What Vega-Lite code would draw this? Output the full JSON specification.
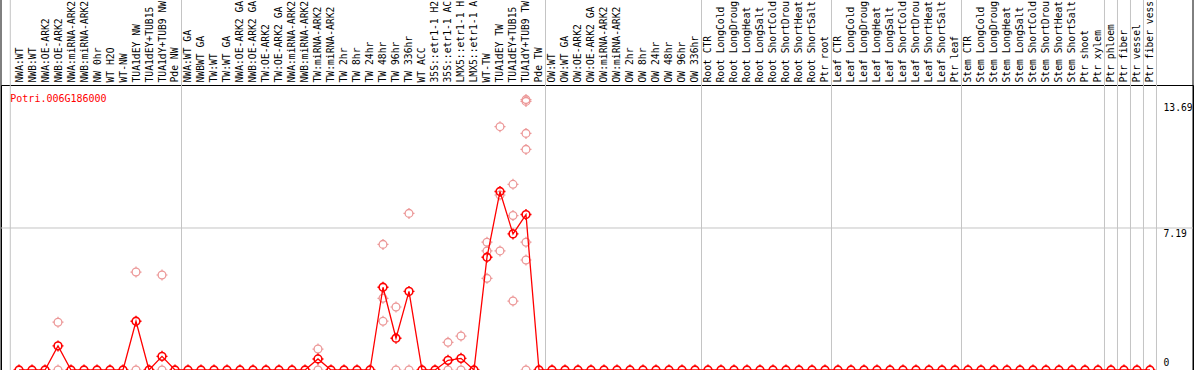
{
  "$schema": "https://vega.github.io/schema/vega-lite/v6.json",
  "width": 1192,
  "height": 285,
  "autosize": {"type": "none"},
  "padding": {"left": 1, "right": 1, "top": 85, "bottom": 0},
  "background": "white",
  "config": {"view": {"stroke": "#000000", "strokeWidth": 1}, "axis": {"labelOverlap": false}},
  "resolve": {"axis": {"x": "independent", "y": "independent"}},
  "datasets": {
    "samples": [
      {"i": 1, "sample": "NWA:WT", "value": 0},
      {"i": 2, "sample": "NWB:WT", "value": 0},
      {"i": 3, "sample": "NWA:OE-ARK2", "value": 0},
      {"i": 4, "sample": "NWB:OE-ARK2", "value": 1.22},
      {"i": 5, "sample": "NWA:miRNA-ARK2", "value": 0},
      {"i": 6, "sample": "NWB:miRNA-ARK2", "value": 0},
      {"i": 7, "sample": "NW 0hr", "value": 0},
      {"i": 8, "sample": "WT H2O", "value": 0},
      {"i": 9, "sample": "WT-NW", "value": 0},
      {"i": 10, "sample": "TUA1dEY NW", "value": 2.47},
      {"i": 11, "sample": "TUA1dEY+TUB15", "value": 0},
      {"i": 12, "sample": "TUA1dY+TUB9 NW", "value": 0.69},
      {"i": 13, "sample": "Pde NW", "value": 0},
      {"i": 14, "sample": "NWA:WT GA", "value": 0},
      {"i": 15, "sample": "NWBWT GA", "value": 0},
      {"i": 16, "sample": "TW:WT", "value": 0},
      {"i": 17, "sample": "TW:WT GA", "value": 0},
      {"i": 18, "sample": "NWA:OE-ARK2 GA", "value": 0},
      {"i": 19, "sample": "NWB:OE-ARK2 GA", "value": 0},
      {"i": 20, "sample": "TW:OE-ARK2", "value": 0},
      {"i": 21, "sample": "TW:OE-ARK2 GA", "value": 0},
      {"i": 22, "sample": "NWA:miRNA-ARK2", "value": 0},
      {"i": 23, "sample": "NWB:miRNA-ARK2", "value": 0},
      {"i": 24, "sample": "TW:miRNA-ARK2", "value": 0.56},
      {"i": 25, "sample": "TW:miRNA-ARK2", "value": 0},
      {"i": 26, "sample": "TW 2hr", "value": 0},
      {"i": 27, "sample": "TW 8hr", "value": 0},
      {"i": 28, "sample": "TW 24hr", "value": 0},
      {"i": 29, "sample": "TW 48hr", "value": 4.19},
      {"i": 30, "sample": "TW 96hr", "value": 1.61},
      {"i": 31, "sample": "TW 336hr", "value": 3.98},
      {"i": 32, "sample": "WT ACC", "value": 0},
      {"i": 33, "sample": "35S::etr1-1 H2", "value": 0},
      {"i": 34, "sample": "35S::etr1-1 AC", "value": 0.49},
      {"i": 35, "sample": "LMX5::etr1-1 H", "value": 0.59},
      {"i": 36, "sample": "LMX5::etr1-1 A", "value": 0},
      {"i": 37, "sample": "WT-TW", "value": 5.71},
      {"i": 38, "sample": "TUA1dEY TW", "value": 9.04},
      {"i": 39, "sample": "TUA1dEY+TUB15", "value": 6.89},
      {"i": 40, "sample": "TUA1dY+TUB9 TW", "value": 7.87},
      {"i": 41, "sample": "Pde TW", "value": 0},
      {"i": 42, "sample": "OW:WT", "value": 0},
      {"i": 43, "sample": "OW:WT GA", "value": 0},
      {"i": 44, "sample": "OW:OE-ARK2", "value": 0},
      {"i": 45, "sample": "OW:OE-ARK2 GA", "value": 0},
      {"i": 46, "sample": "OW:miRNA-ARK2", "value": 0},
      {"i": 47, "sample": "OW:miRNA-ARK2", "value": 0},
      {"i": 48, "sample": "OW 2hr", "value": 0},
      {"i": 49, "sample": "OW 8hr", "value": 0},
      {"i": 50, "sample": "OW 24hr", "value": 0},
      {"i": 51, "sample": "OW 48hr", "value": 0},
      {"i": 52, "sample": "OW 96hr", "value": 0},
      {"i": 53, "sample": "OW 336hr", "value": 0},
      {"i": 54, "sample": "Root CTR", "value": 0},
      {"i": 55, "sample": "Root LongCold", "value": 0},
      {"i": 56, "sample": "Root LongDroug", "value": 0},
      {"i": 57, "sample": "Root LongHeat", "value": 0},
      {"i": 58, "sample": "Root LongSalt", "value": 0},
      {"i": 59, "sample": "Root ShortCold", "value": 0},
      {"i": 60, "sample": "Root ShortDrou", "value": 0},
      {"i": 61, "sample": "Root ShortHeat", "value": 0},
      {"i": 62, "sample": "Root ShortSalt", "value": 0},
      {"i": 63, "sample": "Ptr root", "value": 0},
      {"i": 64, "sample": "Leaf CTR", "value": 0},
      {"i": 65, "sample": "Leaf LongCold", "value": 0},
      {"i": 66, "sample": "Leaf LongDroug", "value": 0},
      {"i": 67, "sample": "Leaf LongHeat", "value": 0},
      {"i": 68, "sample": "Leaf LongSalt", "value": 0},
      {"i": 69, "sample": "Leaf ShortCold", "value": 0},
      {"i": 70, "sample": "Leaf ShortDrou", "value": 0},
      {"i": 71, "sample": "Leaf ShortHeat", "value": 0},
      {"i": 72, "sample": "Leaf ShortSalt", "value": 0},
      {"i": 73, "sample": "Ptr leaf", "value": 0},
      {"i": 74, "sample": "Stem CTR", "value": 0},
      {"i": 75, "sample": "Stem LongCold", "value": 0},
      {"i": 76, "sample": "Stem LongDroug", "value": 0},
      {"i": 77, "sample": "Stem LongHeat", "value": 0},
      {"i": 78, "sample": "Stem LongSalt", "value": 0},
      {"i": 79, "sample": "Stem ShortCold", "value": 0},
      {"i": 80, "sample": "Stem ShortDrou", "value": 0},
      {"i": 81, "sample": "Stem ShortHeat", "value": 0},
      {"i": 82, "sample": "Stem ShortSalt", "value": 0},
      {"i": 83, "sample": "Ptr shoot", "value": 0},
      {"i": 84, "sample": "Ptr xylem", "value": 0},
      {"i": 85, "sample": "Ptr phloem", "value": 0},
      {"i": 86, "sample": "Ptr fiber", "value": 0},
      {"i": 87, "sample": "Ptr vessel", "value": 0},
      {"i": 88, "sample": "Ptr fiber vess", "value": 0}
    ],
    "reps": [
      {"i": 4, "value": 2.42}, {"i": 4, "value": 0},
      {"i": 10, "value": 4.96}, {"i": 10, "value": 0},
      {"i": 12, "value": 4.81}, {"i": 12, "value": 0},
      {"i": 24, "value": 1.06}, {"i": 24, "value": 0},
      {"i": 29, "value": 6.36}, {"i": 29, "value": 3.63}, {"i": 29, "value": 2.47},
      {"i": 30, "value": 3.19}, {"i": 30, "value": 0},
      {"i": 31, "value": 7.93}, {"i": 31, "value": 0},
      {"i": 34, "value": 1.4}, {"i": 34, "value": 0},
      {"i": 35, "value": 1.72}, {"i": 35, "value": 0},
      {"i": 37, "value": 6.47}, {"i": 37, "value": 6.03}, {"i": 37, "value": 4.64},
      {"i": 38, "value": 12.32}, {"i": 38, "value": 8.86}, {"i": 38, "value": 6.03},
      {"i": 39, "value": 9.4}, {"i": 39, "value": 7.82}, {"i": 39, "value": 3.49},
      {"i": 40, "value": 13.69}, {"i": 40, "value": 13.6}, {"i": 40, "value": 11.98}, {"i": 40, "value": 11.17}, {"i": 40, "value": 6.47}, {"i": 40, "value": 5.57}, {"i": 40, "value": 0}
    ],
    "separators": [
      {"i": -0.385, "kind": "edge"},
      {"i": 0.33, "kind": "group"},
      {"i": 13.5, "kind": "group"},
      {"i": 41.5, "kind": "group"},
      {"i": 53.5, "kind": "group"},
      {"i": 63.5, "kind": "group"},
      {"i": 73.5, "kind": "group"},
      {"i": 84.5, "kind": "group"},
      {"i": 85.5, "kind": "group"},
      {"i": 86.5, "kind": "group"},
      {"i": 87.5, "kind": "group"},
      {"i": 88.5, "kind": "group"},
      {"i": 91.31, "kind": "edge"}
    ],
    "gene": [{"gene": "Potri.006G186000", "gridline": 7.19}]
  },
  "layer": [
    {
      "data": {"name": "separators"},
      "mark": {"type": "rule", "strokeWidth": 1, "clip": false},
      "encoding": {
        "x": {
          "field": "i", "type": "quantitative",
          "scale": {"domain": [-0.385, 91.31], "nice": false, "zero": false},
          "axis": {
            "orient": "top", "title": null, "grid": false, "domain": false, "ticks": false, "tickSize": 0,
            "values": [1,2,3,4,5,6,7,8,9,10,11,12,13,14,15,16,17,18,19,20,21,22,23,24,25,26,27,28,29,30,31,32,33,34,35,36,37,38,39,40,41,42,43,44,45,46,47,48,49,50,51,52,53,54,55,56,57,58,59,60,61,62,63,64,65,66,67,68,69,70,71,72,73,74,75,76,77,78,79,80,81,82,83,84,85,86,87,88],
            "labelExpr": "data('samples')[datum.value - 1].sample",
            "labelAngle": -90, "labelAlign": "left", "labelBaseline": "middle",
            "labelPadding": 3, "labelOverlap": false, "labelBound": false, "labelFlush": false, "labelLimit": 0,
            "labelFont": "DejaVu Sans Mono", "labelFontSize": 9.7, "labelColor": "#000000"
          }
        },
        "y": {"datum": 0, "type": "quantitative", "scale": {"domain": [0, 14.43], "nice": false, "zero": false}, "axis": null},
        "y2": {"datum": 18.8},
        "color": {"field": "kind", "type": "nominal", "scale": {"domain": ["group", "edge"], "range": ["#c4c4c4", "#000000"]}, "legend": null}
      }
    },
    {
      "data": {"name": "gene"},
      "mark": {"type": "rule", "color": "#c4c4c4", "strokeWidth": 1},
      "encoding": {
        "y": {"field": "gridline", "type": "quantitative", "axis": null}
      }
    },
    {
      "data": {"name": "reps"},
      "mark": {"type": "point", "shape": "circle", "filled": false, "size": 60, "stroke": "#ec9898", "strokeWidth": 1.3, "opacity": 1, "clip": false},
      "encoding": {
        "x": {"field": "i", "type": "quantitative", "axis": null},
        "y": {"field": "value", "type": "quantitative", "axis": null}
      }
    },
    {
      "data": {"name": "reps"},
      "mark": {"type": "point", "shape": "M0,-0.72L0,-1M0,0.72L0,1M-0.72,0L-1,0M0.72,0L1,0", "filled": false, "size": 121, "stroke": "#ec9898", "strokeWidth": 1.2, "opacity": 1, "clip": false},
      "encoding": {
        "x": {"field": "i", "type": "quantitative", "axis": null},
        "y": {"field": "value", "type": "quantitative", "axis": null}
      }
    },
    {
      "data": {"name": "samples"},
      "mark": {"type": "line", "color": "#ff0000", "strokeWidth": 1.3},
      "encoding": {
        "x": {"field": "i", "type": "quantitative", "axis": null},
        "y": {"field": "value", "type": "quantitative", "axis": null}
      }
    },
    {
      "data": {"name": "samples"},
      "mark": {"type": "point", "shape": "M0,-0.72L0,-1M0,0.72L0,1M-0.72,0L-1,0M0.72,0L1,0", "filled": false, "size": 121, "stroke": "#ff0000", "strokeWidth": 1.4, "opacity": 1, "clip": false},
      "encoding": {
        "x": {"field": "i", "type": "quantitative", "axis": null},
        "y": {"field": "value", "type": "quantitative", "axis": null}
      }
    },
    {
      "data": {"name": "samples"},
      "mark": {"type": "point", "shape": "circle", "filled": false, "size": 60, "stroke": "#ff0000", "strokeWidth": 1.6, "opacity": 1, "clip": false},
      "encoding": {
        "x": {"field": "i", "type": "quantitative", "axis": null},
        "y": {
          "field": "value", "type": "quantitative",
          "axis": {
            "orient": "right", "title": null, "grid": false, "domain": false, "ticks": false, "tickSize": 0,
            "values": [0, 7.19, 13.69],
            "labelExpr": "'' + datum.value",
            "labelAlign": "left", "labelBaseline": "top", "labelPadding": -30,
            "labelOffset": {"condition": [{"test": "datum.value == 0", "value": -12.6}, {"test": "datum.value > 10", "value": 2.5}], "value": 0.5},
            "labelOverlap": false, "labelBound": false, "labelFlush": false,
            "labelFont": "DejaVu Sans Mono", "labelFontSize": 9.7, "labelColor": "#000000"
          }
        }
      }
    },
    {
      "data": {"name": "gene"},
      "mark": {"type": "text", "color": "#ff0000", "font": "DejaVu Sans Mono", "fontSize": 10, "align": "left", "baseline": "alphabetic"},
      "encoding": {
        "x": {"datum": 0.33, "type": "quantitative", "axis": null},
        "y": {"datum": 13.58, "type": "quantitative", "axis": null},
        "text": {"field": "gene", "type": "nominal"}
      }
    }
  ]
}
